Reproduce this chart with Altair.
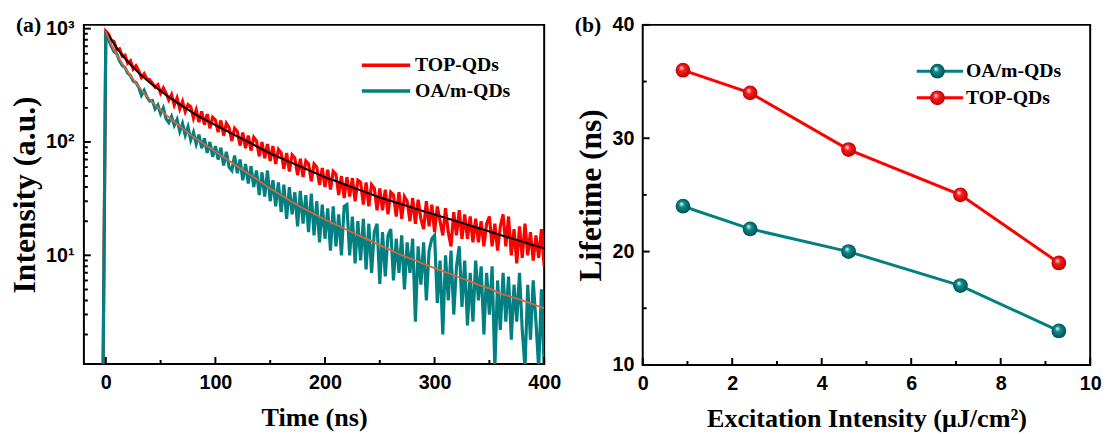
import altair as alt
import pandas as pd

# ---------------- panel (a): PL decay ----------------
T_STEP = 2.5                      # sampling step of the decay traces (ns), first sample at t = 0
RISE_T = [-2.5]                   # instrument rise point before the peak
TOP_RISE = [0.9]
OAM_RISE = [0.9]

TOP_I = [
    950, 895, 790, 770, 650, 665, 570, 585,
    495, 520, 440, 470, 425, 370, 400, 360,
    355, 330, 305, 320, 270, 300, 268, 235,
    262, 212, 245, 196, 228, 185, 214, 205,
    162, 192, 150, 186, 142, 176, 132, 165,
    156, 122, 155, 114, 146, 134, 102, 132,
    124, 93, 121, 88, 114, 84, 110, 102,
    75, 100, 72, 96, 68, 92, 64, 86,
    80, 58, 80, 55, 77, 72, 51, 71,
    49, 68, 64, 45, 64, 60, 42, 59,
    40, 57, 38, 55, 52, 34, 50, 32,
    49, 33, 48, 30, 46, 44, 28, 44,
    27, 42, 39, 25, 39, 25, 38, 23,
    36, 34, 22, 36, 21, 33, 30, 20,
    32, 19, 31, 21, 17, 30, 18, 28,
    16, 27, 20, 15, 26, 16, 12, 24,
    15, 25, 14, 23, 14, 22, 13, 21,
    13, 20, 12, 19, 22, 12, 19, 11,
    18, 23, 12, 22, 10, 17, 8.5, 18,
    9.5, 19, 10, 16, 9, 15, 9.5, 17,
    8,
]

OAM_I = [
    950, 800, 700, 625, 600, 520, 475, 455,
    405, 385, 345, 335, 305, 258, 285, 250,
    230, 232, 196, 212, 178, 200, 160, 148,
    168, 140, 158, 124, 146, 115, 136, 104,
    122, 96, 116, 88, 108, 80, 100, 74,
    92, 70, 89, 62, 82, 60, 56, 76,
    53, 70, 46, 64, 43, 61, 40, 56,
    34, 54, 33, 56, 30, 46, 27, 44,
    24, 42, 21, 40, 23, 36, 18, 37,
    19, 34, 16, 35, 15, 30, 13, 28,
    14, 26, 11, 27, 12, 23, 10, 27,
    28, 10, 22, 8.5, 20, 9, 21, 7.5,
    19, 7, 16, 19, 5.6, 16, 6.5, 15,
    17, 6, 14, 7, 15, 5, 13, 7,
    14, 2.6, 12, 5.5, 13, 4, 11, 14,
    15, 3.8, 9, 2.0, 10, 4, 11, 3,
    8, 12, 3.5, 9, 2.4, 7, 2.6, 9,
    4, 8, 2.0, 7, 3, 8, 1.0, 6,
    2.2, 7, 2.6, 6.5, 1.8, 5.5, 2.6, 7,
    2.2, 1.0, 5.5, 1.8, 6, 2.6, 1.0, 5,
    1.0,
]

FIT_T = [0, 5, 10, 20, 30, 40, 50, 60, 70, 80, 90, 100, 110, 120, 130, 140,
         150, 160, 170, 180, 190, 200, 210, 220, 230, 240, 250, 260, 270, 280,
         290, 300, 310, 320, 330, 340, 350, 360, 370, 380, 390, 400]
TOP_FIT = [955, 803, 676, 513, 407, 335, 282, 240, 207, 180, 158, 141, 126, 112,
           100, 89.1, 79.4, 71.9, 65.3, 59.3, 53.8, 49.0, 45.1, 41.5, 38.2, 35.2,
           32.4, 30.2, 28.2, 26.3, 24.5, 22.9, 21.4, 20.0, 18.6, 17.4, 16.2, 15.1,
           14.1, 13.2, 12.3, 11.5]
OAM_FIT = [955, 724, 589, 417, 309, 237, 191, 158, 132, 111, 95.5, 82.2, 70.8,
           61.0, 52.5, 45.2, 38.9, 33.9, 29.5, 26.0, 23.2, 20.7, 18.6, 16.8, 15.1,
           13.6, 12.3, 11.1, 10.0, 9.2, 8.4, 7.7, 7.1, 6.5, 6.0, 5.5, 5.1, 4.6,
           4.3, 4.0, 3.7, 3.4]

X_MAJOR_A = [0, 100, 200, 300, 400]
X_MINOR_A = [50, 150, 250, 350]
Y_MAJOR_A = [10, 100, 1000]
Y_MINOR_A = [2, 3, 4, 5, 6, 7, 8, 9, 20, 30, 40, 50, 60, 70, 80, 90,
             200, 300, 400, 500, 600, 700, 800, 900]
LEGEND_A = ["TOP-QDs", "OA/m-QDs"]

# ---------------- panel (b): lifetime vs excitation ----------------
EXC = [0.9, 2.4, 4.6, 7.1, 9.3]
LIFE_OAM = [24, 22, 20, 17, 13]
LIFE_TOP = [36, 34, 29, 25, 19]
X_MAJOR_B = [0, 2, 4, 6, 8, 10]
X_MINOR_B = [1, 3, 5, 7, 9]
Y_MAJOR_B = [10, 20, 30, 40]
Y_MINOR_B = [15, 25, 35]
LEGEND_B = ["OA/m-QDs", "TOP-QDs"]

# ---------------- styling ----------------
RED = "#ff0000"
TEAL = "#008080"
FIT_BLACK = "#000000"
FIT_ORANGE = "#e2603c"
SANS = "Liberation Sans"
SERIF = "Liberation Serif"

W_A, H_A = 467, 344
W_B, H_B = 454, 345
X_TITLE_SIZE = 26.5
Y_TITLE_SIZE = 32


def one(label):
    return pd.DataFrame({"label": [label]})


# ---------- panel (a) ----------
n = len(TOP_I)
times = RISE_T + [i * T_STEP for i in range(n)]
df_top = pd.DataFrame({"t": times, "I": TOP_RISE + TOP_I})
df_oam = pd.DataFrame({"t": times, "I": OAM_RISE + OAM_I})
df_top_fit = pd.DataFrame({"t": FIT_T, "I": TOP_FIT})
df_oam_fit = pd.DataFrame({"t": FIT_T, "I": OAM_FIT})

xs_a = alt.Scale(domain=[-20, 400], nice=False, zero=False)
ys_a = alt.Scale(type="log", domain=[1.1, 1080], nice=False)
ax_xa = alt.Axis(title="Time (ns)", values=X_MAJOR_A, labelPadding=9, titlePadding=12,
                 titleFontSize=X_TITLE_SIZE)
ax_ya = alt.Axis(
    title="Intensity (a.u.)",
    values=Y_MAJOR_A,
    labelExpr="datum.value == 1000 ? '10\u00b3' : (datum.value == 100 ? '10\u00b2' : '10\u00b9')",
    labelPadding=10,
    titlePadding=4,
    titleFontSize=Y_TITLE_SIZE,
)


def xa(f):
    return alt.X(f"{f}:Q", scale=xs_a, axis=ax_xa)


def ya(f):
    return alt.Y(f"{f}:Q", scale=ys_a, axis=ax_ya)


layers_a = [
    alt.Chart(df_top).mark_line(color=RED, strokeWidth=3.2, clip=True).encode(x=xa("t"), y=ya("I")),
    alt.Chart(df_oam).mark_line(color=TEAL, strokeWidth=3.2, clip=True).encode(x=xa("t"), y=ya("I")),
    alt.Chart(df_top_fit).mark_line(color=FIT_BLACK, strokeWidth=2, interpolate="monotone", clip=True).encode(x=xa("t"), y=ya("I")),
    alt.Chart(df_oam_fit).mark_line(color=FIT_ORANGE, strokeWidth=1.8, interpolate="monotone", clip=True).encode(x=xa("t"), y=ya("I")),
    alt.Chart(pd.DataFrame({"t": X_MAJOR_A})).mark_rule(color="black", strokeWidth=2).encode(
        x=xa("t"), y=alt.value(H_A), y2=alt.value(H_A - 7)),
    alt.Chart(pd.DataFrame({"t": X_MINOR_A})).mark_rule(color="black", strokeWidth=2).encode(
        x=xa("t"), y=alt.value(H_A), y2=alt.value(H_A - 4)),
    alt.Chart(pd.DataFrame({"I": Y_MAJOR_A})).mark_rule(color="black", strokeWidth=2).encode(
        y=ya("I"), x=alt.value(0), x2=alt.value(7)),
    alt.Chart(pd.DataFrame({"I": Y_MINOR_A})).mark_rule(color="black", strokeWidth=2, clip=True).encode(
        y=ya("I"), x=alt.value(0), x2=alt.value(4)),
]
leg_colors_a = [RED, TEAL]
for i, (lab, col) in enumerate(zip(LEGEND_A, leg_colors_a)):
    yy = 41 + 26 * i
    layers_a.append(alt.Chart(one(lab)).mark_rule(color=col, strokeWidth=3.5).encode(
        x=alt.value(282), x2=alt.value(331), y=alt.value(yy)))
    layers_a.append(alt.Chart(one(lab)).mark_text(
        align="left", baseline="middle", font=SERIF, fontSize=20, fontWeight="bold", color="black"
    ).encode(text="label:N", x=alt.value(336), y=alt.value(yy)))
layers_a.append(alt.Chart(one("(a)")).mark_text(
    align="left", baseline="middle", font=SERIF, fontSize=22, fontWeight="bold", color="black"
).encode(text="label:N", x=alt.value(-69), y=alt.value(0)))

panel_a = alt.layer(*layers_a).properties(width=W_A, height=H_A)

# ---------- panel (b) ----------
df_b_oam = pd.DataFrame({"x": EXC, "y": LIFE_OAM})
df_b_top = pd.DataFrame({"x": EXC, "y": LIFE_TOP})

xs_b = alt.Scale(domain=[0, 10], nice=False, zero=False)
ys_b = alt.Scale(domain=[10, 40], nice=False, zero=False)
ax_xb = alt.Axis(title="Excitation Intensity (\u03bcJ/cm\u00b2)", values=X_MAJOR_B, labelPadding=9,
                 titlePadding=12, titleFontSize=X_TITLE_SIZE)
ax_yb = alt.Axis(title="Lifetime (ns)", values=Y_MAJOR_B, labelPadding=9, titlePadding=5,
                 titleFontSize=Y_TITLE_SIZE)


def xb(f):
    return alt.X(f"{f}:Q", scale=xs_b, axis=ax_xb)


def yb(f):
    return alt.Y(f"{f}:Q", scale=ys_b, axis=ax_yb)


def sphere(mid, dark):
    return alt.RadialGradient(
        gradient="radial",
        x1=0.38, y1=0.32, r1=0.0,
        x2=0.5, y2=0.5, r2=0.55,
        stops=[
            alt.GradientStop(color="#ffffff", offset=0.0),
            alt.GradientStop(color=mid, offset=0.35),
            alt.GradientStop(color=dark, offset=1.0),
        ],
    )


SPH_TEAL = sphere("#0a8a8a", "#004a4a")
SPH_RED = sphere("#ff1a1a", "#b00000")

layers_b = [
    alt.Chart(df_b_oam).mark_line(color=TEAL, strokeWidth=3).encode(x=xb("x"), y=yb("y")),
    alt.Chart(df_b_top).mark_line(color=RED, strokeWidth=3).encode(x=xb("x"), y=yb("y")),
    alt.Chart(df_b_oam).mark_point(shape="circle", filled=True, fill=SPH_TEAL, size=225, opacity=1, strokeWidth=0).encode(x=xb("x"), y=yb("y")),
    alt.Chart(df_b_top).mark_point(shape="circle", filled=True, fill=SPH_RED, size=225, opacity=1, strokeWidth=0).encode(x=xb("x"), y=yb("y")),
    alt.Chart(pd.DataFrame({"x": X_MAJOR_B})).mark_rule(color="black", strokeWidth=2).encode(
        x=xb("x"), y=alt.value(H_B), y2=alt.value(H_B - 7)),
    alt.Chart(pd.DataFrame({"x": X_MINOR_B})).mark_rule(color="black", strokeWidth=2).encode(
        x=xb("x"), y=alt.value(H_B), y2=alt.value(H_B - 4)),
    alt.Chart(pd.DataFrame({"y": Y_MAJOR_B})).mark_rule(color="black", strokeWidth=2).encode(
        y=yb("y"), x=alt.value(0), x2=alt.value(7)),
    alt.Chart(pd.DataFrame({"y": Y_MINOR_B})).mark_rule(color="black", strokeWidth=2).encode(
        y=yb("y"), x=alt.value(0), x2=alt.value(4)),
]
leg_b = [(LEGEND_B[0], TEAL, SPH_TEAL), (LEGEND_B[1], RED, SPH_RED)]
for i, (lab, col, sph) in enumerate(leg_b):
    yy = 47 + 27 * i
    layers_b.append(alt.Chart(one(lab)).mark_rule(color=col, strokeWidth=3).encode(
        x=alt.value(278), x2=alt.value(325), y=alt.value(yy)))
    layers_b.append(alt.Chart(one(lab)).mark_point(
        shape="circle", filled=True, fill=sph, size=225, opacity=1, strokeWidth=0
    ).encode(x=alt.value(299), y=alt.value(yy)))
    layers_b.append(alt.Chart(one(lab)).mark_text(
        align="left", baseline="middle", font=SERIF, fontSize=20, fontWeight="bold", color="black"
    ).encode(text="label:N", x=alt.value(328), y=alt.value(yy)))
layers_b.append(alt.Chart(one("(b)")).mark_text(
    align="left", baseline="middle", font=SERIF, fontSize=22, fontWeight="bold", color="black"
).encode(text="label:N", x=alt.value(-69), y=alt.value(0)))

panel_b = alt.layer(*layers_b).properties(width=W_B, height=H_B)

chart = (
    alt.hconcat(panel_a, panel_b, spacing=11)
    .properties(padding={"left": 0, "top": 2, "right": 0, "bottom": 0}, background="white")
    .configure_view(stroke="black", strokeWidth=2)
    .configure_axis(
        domain=False, grid=False, ticks=False, tickSize=0,
        labelFont=SANS, labelFontSize=20, labelFontWeight="bold", labelColor="black",
        titleFont=SERIF, titleFontSize=26, titleFontWeight="bold", titleColor="black",
        labelFlush=False, labelOverlap=False,
    )
)

chart.save("out.html", embed_options={"renderer": "svg", "actions": False})
